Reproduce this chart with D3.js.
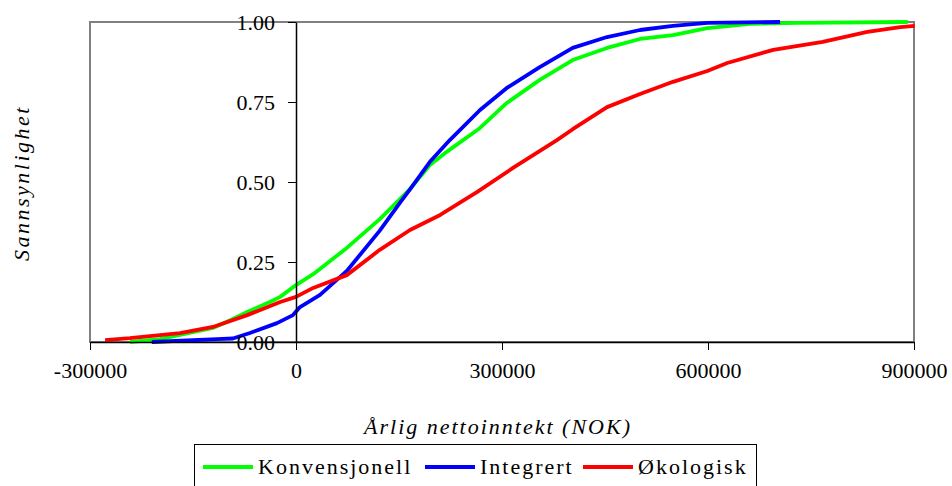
<!DOCTYPE html>
<html><head><meta charset="utf-8">
<script src="https://cdn.jsdelivr.net/npm/d3@7"></script>
<style>body{margin:0;background:#fff}svg{display:block}svg text{font-family:"Liberation Serif","Tinos","Times New Roman","DejaVu Serif",serif !important}</style>
</head><body><div id="chart"></div>
<script>
const xTicks = [-300000, 0, 300000, 600000, 900000];
const yTicks = [0, 0.25, 0.5, 0.75, 1.0];
const seriesNames = ["Konvensjonell", "Integrert", "Økologisk"];
const seriesColors = ["#00ff00", "#0000ff", "#ff0000"];

const konvX = [-241700,-198000,-169000,-121000,-92000,-71000,-38000,-23000,0,25000,74000,122000,166000,195000,220000,268000,307000,355000,403000,453000,501000,549000,599000,661000,730000,891000];
const konvY = [0,0.009,0.022,0.044,0.072,0.094,0.125,0.141,0.178,0.212,0.294,0.384,0.478,0.553,0.595,0.669,0.747,0.819,0.881,0.919,0.947,0.959,0.981,0.994,0.997,1.0];

const integX = [-210000,-115000,-92000,-67000,-27700,-4400,5800,16000,35000,74000,122000,151000,166000,195000,224000,268000,307000,355000,403000,453000,501000,549000,599000,705000];
const integY = [0,0.009,0.011,0.028,0.059,0.084,0.109,0.122,0.147,0.222,0.348,0.434,0.477,0.563,0.631,0.725,0.794,0.859,0.919,0.953,0.975,0.988,0.997,1.0];

const okoX = [-278000,-242000,-169000,-121000,-71000,-23000,0,25000,74000,122000,166000,210000,264000,316000,380000,403000,453000,501000,549000,599000,628000,695000,767000,832000,880000,901000];
const okoY = [0.006,0.012,0.028,0.047,0.084,0.125,0.141,0.169,0.209,0.288,0.35,0.397,0.469,0.544,0.631,0.665,0.734,0.775,0.813,0.847,0.872,0.913,0.938,0.969,0.984,0.988];

const W = 952, H = 486;
const FONT = "'Liberation Serif', Tinos, 'Times New Roman', 'DejaVu Serif', serif";
const svg = d3.select("#chart").append("svg").attr("width", W).attr("height", H);
const x = d3.scaleLinear().domain([-300000, 900000]).range([90, 914]);
const y = d3.scaleLinear().domain([0, 1]).range([342, 22]);

svg.append("rect").attr("x", 90).attr("y", 22).attr("width", 824).attr("height", 320)
  .attr("fill", "none").attr("stroke", "#808080").attr("stroke-width", 2);

const series = [[konvX, konvY], [integX, integY], [okoX, okoY]];
const line = d3.line().x(d => x(d[0])).y(d => y(d[1]));
series.forEach((s, i) => {
  const pts = s[0].map((v, j) => [v, s[1][j]]);
  svg.append("path").attr("d", line(pts)).attr("fill", "none")
    .attr("stroke", seriesColors[i]).attr("stroke-width", 3.8).attr("stroke-linejoin", "round");
});

const fmtX = d => String(d);
const xAxis = d3.axisBottom(x).tickValues(xTicks).tickFormat(fmtX).tickSize(8).tickSizeOuter(0).tickPadding(12);
const gx = svg.append("g").attr("transform", `translate(0,${y(0)})`).call(xAxis).attr("font-family", FONT);
gx.select(".domain").attr("stroke", "#000").attr("stroke-width", 1.5);
gx.selectAll(".tick line").attr("stroke", "#000");
gx.selectAll("text").attr("font-size", 22).attr("fill", "#000");

const yAxis = d3.axisLeft(y).tickValues(yTicks).tickFormat(d3.format(".2f")).tickSize(8).tickSizeOuter(0).tickPadding(13);
const gy = svg.append("g").attr("transform", `translate(${x(0)},0)`).call(yAxis).attr("font-family", FONT);
gy.select(".domain").attr("stroke", "#000").attr("stroke-width", 1.5);
gy.selectAll(".tick line").attr("stroke", "#000");
gy.selectAll("text").attr("font-size", 22).attr("fill", "#000");

svg.append("text").attr("x", 498).attr("y", 434).attr("text-anchor", "middle")
  .attr("font-family", FONT).attr("font-size", 22).attr("font-style", "italic").attr("letter-spacing", "2px")
  .text("Årlig nettoinntekt (NOK)");
svg.append("text").attr("transform", "translate(29,183) rotate(-90)").attr("text-anchor", "middle")
  .attr("font-family", FONT).attr("font-size", 22).attr("font-style", "italic").attr("letter-spacing", "2.5px")
  .text("Sannsynlighet");

svg.append("rect").attr("x", 194.5).attr("y", 444.5).attr("width", 562).attr("height", 50)
  .attr("fill", "#fff").attr("stroke", "#000").attr("stroke-width", 1);
const legX = [203, 425, 583];
seriesNames.forEach((n, i) => {
  svg.append("line").attr("x1", legX[i]).attr("x2", legX[i] + 50).attr("y1", 467).attr("y2", 467)
    .attr("stroke", seriesColors[i]).attr("stroke-width", 3.8);
  svg.append("text").attr("x", legX[i] + 55).attr("y", 474).attr("font-family", FONT).attr("font-size", 22)
    .attr("letter-spacing", "2px").text(n);
});
</script></body></html>
